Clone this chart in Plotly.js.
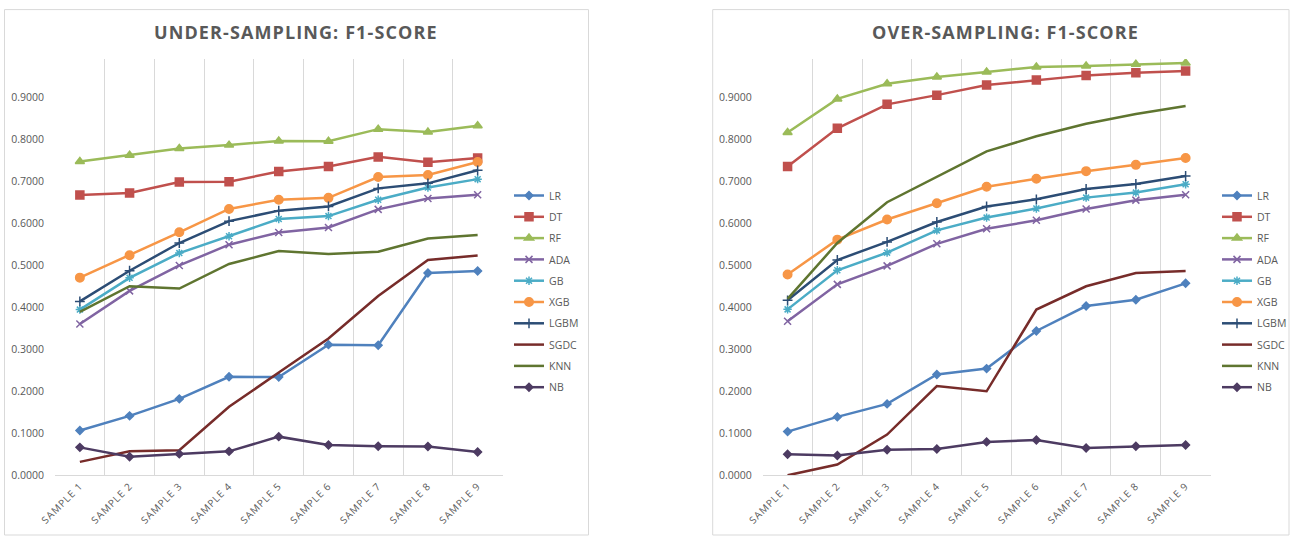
<!DOCTYPE html>
<html>
<head>
<meta charset="utf-8">
<script src="https://cdn.plot.ly/plotly-3.0.1.min.js"></script>
<style>
  html, body { margin: 0; padding: 0; background: #ffffff; }
  #chart { width: 1298px; height: 537px; }
</style>
</head>
<body>
<div id="chart"></div>
<script>
// Categories and model names
const samples = ['SAMPLE 1', 'SAMPLE 2', 'SAMPLE 3', 'SAMPLE 4', 'SAMPLE 5', 'SAMPLE 6', 'SAMPLE 7', 'SAMPLE 8', 'SAMPLE 9'];
const models = ['LR', 'DT', 'RF', 'ADA', 'GB', 'XGB', 'LGBM', 'SGDC', 'KNN', 'NB'];

// Under-sampling F1-scores
const usLR   = [0.1065, 0.1415, 0.1820, 0.2345, 0.2340, 0.3110, 0.3095, 0.4815, 0.4865];
const usDT   = [0.6670, 0.6720, 0.6980, 0.6990, 0.7230, 0.7350, 0.7580, 0.7450, 0.7555];
const usRF   = [0.7470, 0.7620, 0.7780, 0.7860, 0.7960, 0.7955, 0.8240, 0.8170, 0.8320];
const usADA  = [0.3600, 0.4390, 0.4995, 0.5490, 0.5780, 0.5900, 0.6330, 0.6590, 0.6680];
const usGB   = [0.3945, 0.4700, 0.5290, 0.5690, 0.6100, 0.6170, 0.6560, 0.6850, 0.7050];
const usXGB  = [0.4705, 0.5240, 0.5785, 0.6340, 0.6560, 0.6605, 0.7100, 0.7150, 0.7460];
const usLGBM = [0.4140, 0.4870, 0.5530, 0.6050, 0.6300, 0.6400, 0.6830, 0.6950, 0.7260];
const usSGDC = [0.0320, 0.0570, 0.0595, 0.1630, 0.2445, 0.3255, 0.4270, 0.5125, 0.5230];
const usKNN  = [0.3890, 0.4500, 0.4445, 0.5030, 0.5340, 0.5270, 0.5320, 0.5635, 0.5720];
const usNB   = [0.0665, 0.0440, 0.0510, 0.0570, 0.0920, 0.0720, 0.0690, 0.0685, 0.0555];

// Over-sampling F1-scores
const osLR   = [0.1040, 0.1390, 0.1700, 0.2400, 0.2540, 0.3435, 0.4030, 0.4180, 0.4570];
const osDT   = [0.7350, 0.8260, 0.8830, 0.9050, 0.9290, 0.9410, 0.9520, 0.9580, 0.9625];
const osRF   = [0.8160, 0.8960, 0.9320, 0.9480, 0.9600, 0.9720, 0.9745, 0.9785, 0.9815];
const osADA  = [0.3665, 0.4545, 0.4985, 0.5510, 0.5870, 0.6070, 0.6340, 0.6550, 0.6680];
const osGB   = [0.3950, 0.4880, 0.5300, 0.5830, 0.6135, 0.6350, 0.6610, 0.6730, 0.6930];
const osXGB  = [0.4780, 0.5610, 0.6090, 0.6475, 0.6870, 0.7060, 0.7240, 0.7390, 0.7555];
const osLGBM = [0.4165, 0.5125, 0.5555, 0.6030, 0.6400, 0.6570, 0.6815, 0.6935, 0.7125];
const osSGDC = [0.0000, 0.0255, 0.0970, 0.2125, 0.2000, 0.3945, 0.4500, 0.4815, 0.4865];
const osKNN  = [0.4200, 0.5530, 0.6500, 0.7100, 0.7710, 0.8070, 0.8370, 0.8600, 0.8790];
const osNB   = [0.0500, 0.0470, 0.0610, 0.0625, 0.0795, 0.0840, 0.0650, 0.0690, 0.0720];

const yTicks = [0, 0.1, 0.2, 0.3, 0.4, 0.5, 0.6, 0.7, 0.8, 0.9];

const underSeries = [usLR, usDT, usRF, usADA, usGB, usXGB, usLGBM, usSGDC, usKNN, usNB];
const overSeries  = [osLR, osDT, osRF, osADA, osGB, osXGB, osLGBM, osSGDC, osKNN, osNB];

// Office-style series look
const styles = {
  LR:   { color: '#4F81BD', symbol: 'diamond',         size: 6 },
  DT:   { color: '#C0504D', symbol: 'square',          size: 8 },
  RF:   { color: '#9BBB59', symbol: 'triangle-up',     size: 8 },
  ADA:  { color: '#8064A2', symbol: 'x-thin-open',     size: 7 },
  GB:   { color: '#4BACC6', symbol: 'asterisk-open',   size: 7 },
  XGB:  { color: '#F79646', symbol: 'circle',          size: 8.5 },
  LGBM: { color: '#2C4D75', symbol: 'cross-thin-open', size: 7 },
  SGDC: { color: '#772C2A', symbol: null },
  KNN:  { color: '#5F7530', symbol: null },
  NB:   { color: '#4D3B62', symbol: 'diamond',         size: 6 }
};

const W = 1298, H = 537;
const px = v => v / W;
const py = v => 1 - v / H;
const TXT = '#595959';
const GRID = '#D9D9D9';
const FONT = 'Open Sans, Lato, sans-serif';
const spaced = (s, ls) => `<span style="letter-spacing:${ls}px">${s}</span>`;

function makeTraces(series, xa, ya, legendId, prefix) {
  return series.map((vals, i) => {
    const name = models[i];
    const st = styles[name];
    const t = {
      type: 'scatter',
      x: samples,
      y: vals,
      name: name,
      xaxis: xa,
      yaxis: ya,
      legend: legendId,
      legendgroup: prefix + name,
      mode: st.symbol ? 'lines+markers' : 'lines',
      line: { color: st.color, width: 2.5 },
      hoverinfo: 'skip'
    };
    if (st.symbol) {
      t.marker = {
        symbol: st.symbol,
        size: st.size,
        color: st.color,
        line: { color: st.color, width: 1.5 }
      };
    }
    return t;
  });
}

const traces = [].concat(
  makeTraces(underSeries, 'x', 'y', 'legend', 'u'),
  makeTraces(overSeries, 'x2', 'y2', 'legend2', 'o')
);

function xAxis(domain, anchor) {
  return {
    domain: domain,
    anchor: anchor,
    type: 'category',
    range: [-0.5, samples.length - 0.5],
    tickson: 'boundaries',
    ticks: '',
    tickmode: 'array',
    tickvals: samples,
    ticktext: samples.map(s => spaced(s, 0.9)),
    tickangle: -45,
    tickfont: { family: FONT, size: 10, color: TXT },
    showgrid: true,
    gridcolor: GRID,
    gridwidth: 1,
    showline: true,
    linecolor: GRID,
    linewidth: 1,
    zeroline: false,
    fixedrange: true
  };
}

function yAxis(anchor) {
  return {
    domain: [py(475.3), py(59)],
    anchor: anchor,
    range: [0, 0.991],
    tickmode: 'array',
    tickvals: yTicks,
    tickformat: '.4f',
    ticks: '',
    ticklabelstandoff: 10,
    tickfont: { family: FONT, size: 10.5, color: TXT },
    showgrid: false,
    zeroline: false,
    showline: false,
    fixedrange: true
  };
}

function legendAt(x) {
  return {
    x: px(x),
    xanchor: 'left',
    y: py(181),
    yanchor: 'top',
    font: { family: FONT, size: 10.5, color: TXT },
    bgcolor: 'rgba(0,0,0,0)',
    borderwidth: 0,
    tracegroupgap: 2.3,
    traceorder: 'grouped',
    itemclick: false,
    itemdoubleclick: false
  };
}

const layout = {
  width: W,
  height: H,
  margin: { l: 0, r: 0, t: 0, b: 0, autoexpand: false },
  paper_bgcolor: '#ffffff',
  plot_bgcolor: 'rgba(0,0,0,0)',
  font: { family: FONT, color: TXT },
  xaxis: xAxis([px(55), px(502.5)], 'y'),
  yaxis: yAxis('x'),
  xaxis2: xAxis([px(762.7), px(1210.5)], 'y2'),
  yaxis2: yAxis('x2'),
  legend: legendAt(509),
  legend2: legendAt(1217),
  shapes: [
    { type: 'rect', xref: 'paper', yref: 'paper', x0: px(4.5), x1: px(588.5), y0: py(535), y1: py(9.6),
      line: { color: GRID, width: 1 }, fillcolor: 'rgba(0,0,0,0)', layer: 'below' },
    { type: 'rect', xref: 'paper', yref: 'paper', x0: px(712.7), x1: px(1289), y0: py(535), y1: py(9.6),
      line: { color: GRID, width: 1 }, fillcolor: 'rgba(0,0,0,0)', layer: 'below' }
  ],
  annotations: [
    { xref: 'paper', yref: 'paper', x: px(295.7), y: py(32), xanchor: 'center', yanchor: 'middle',
      text: '<b>' + spaced('UNDER-SAMPLING: F1-SCORE', 1.1) + '</b>', showarrow: false,
      font: { family: FONT, size: 18, color: TXT } },
    { xref: 'paper', yref: 'paper', x: px(1005), y: py(32), xanchor: 'center', yanchor: 'middle',
      text: '<b>' + spaced('OVER-SAMPLING: F1-SCORE', 1.1) + '</b>', showarrow: false,
      font: { family: FONT, size: 18, color: TXT } }
  ],
  showlegend: true
};

Plotly.newPlot('chart', traces, layout, { displayModeBar: false, staticPlot: true });
</script>
</body>
</html>
